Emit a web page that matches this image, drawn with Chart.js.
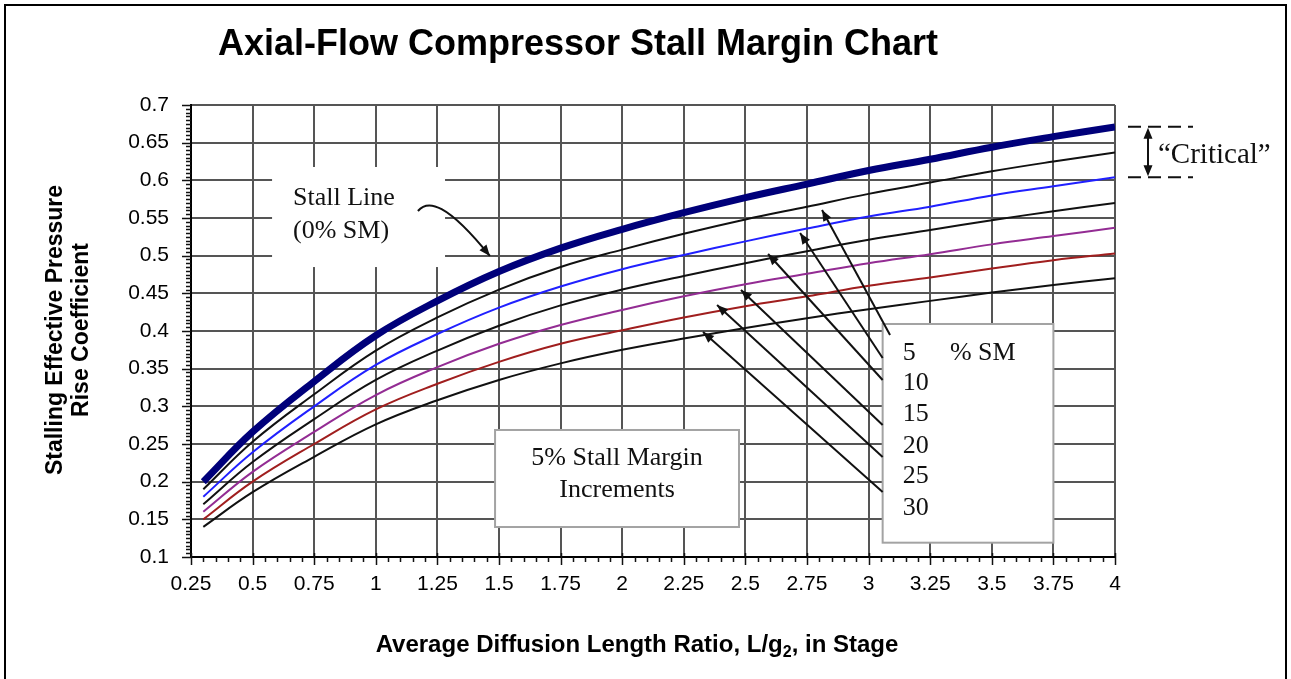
<!DOCTYPE html>
<html>
<head>
<meta charset="utf-8">
<title>Axial-Flow Compressor Stall Margin Chart</title>
<script src="https://cdn.jsdelivr.net/npm/chart.js@4.4.0/dist/chart.umd.min.js"></script>
<style>
  html, body { margin: 0; padding: 0; background: #fff; }
  #wrap { width: 1291px; height: 679px; }
</style>
</head>
<body>
<div id="wrap"><canvas id="stallChart" width="1291" height="679"></canvas></div>
<script>
const lengthRatio = [0.3, 0.5, 0.75, 1, 1.25, 1.5, 1.75, 2, 2.25, 2.5, 2.75, 3, 3.25, 3.5, 3.75, 4];

// stall line (0% SM) and the 5% stall margin increments
const stallLine = [0.200, 0.266, 0.333, 0.394, 0.440, 0.479, 0.510, 0.535, 0.557, 0.577, 0.595, 0.613, 0.628, 0.644, 0.658, 0.671];
const margin5   = [0.190, 0.253, 0.316, 0.374, 0.418, 0.455, 0.485, 0.508, 0.529, 0.548, 0.565, 0.582, 0.597, 0.612, 0.625, 0.637];
const margin10  = [0.180, 0.239, 0.300, 0.355, 0.396, 0.431, 0.459, 0.482, 0.501, 0.519, 0.536, 0.552, 0.565, 0.580, 0.592, 0.604];
const margin15  = [0.170, 0.226, 0.283, 0.335, 0.374, 0.407, 0.434, 0.455, 0.473, 0.490, 0.506, 0.521, 0.534, 0.547, 0.559, 0.570];
const margin20  = [0.160, 0.213, 0.266, 0.315, 0.352, 0.383, 0.408, 0.428, 0.446, 0.462, 0.476, 0.490, 0.502, 0.515, 0.526, 0.537];
const margin25  = [0.150, 0.200, 0.250, 0.296, 0.330, 0.359, 0.383, 0.401, 0.418, 0.433, 0.446, 0.460, 0.471, 0.483, 0.494, 0.503];
const margin30  = [0.140, 0.186, 0.233, 0.276, 0.308, 0.335, 0.357, 0.375, 0.390, 0.404, 0.417, 0.429, 0.440, 0.451, 0.461, 0.470];

// axis ticks
const xTickValues = [0.25, 0.5, 0.75, 1, 1.25, 1.5, 1.75, 2, 2.25, 2.5, 2.75, 3, 3.25, 3.5, 3.75, 4];
const xTickLabels = ['0.25', '0.5', '0.75', '1', '1.25', '1.5', '1.75', '2', '2.25', '2.5', '2.75', '3', '3.25', '3.5', '3.75', '4'];
const yTickValues = [0.1, 0.15, 0.2, 0.25, 0.3, 0.35, 0.4, 0.45, 0.5, 0.55, 0.6, 0.65, 0.7];
const yTickLabels = ['0.1', '0.15', '0.2', '0.25', '0.3', '0.35', '0.4', '0.45', '0.5', '0.55', '0.6', '0.65', '0.7'];

// legend box entries
const smLabels = ['5', '10', '15', '20', '25', '30'];

// annotation placement, in data units (x = L/g2, y = coefficient)
const stallNoteBox = { x0: 0.579, x1: 1.281, y0: 0.6177, y1: 0.4849 };
const incrementBox = { x0: 1.484, x1: 2.474, y0: 0.2686, y1: 0.1398 };
const smBox = { x0: 3.057, x1: 3.750, y0: 0.4093, y1: 0.1190 };
const smBaselines = [0.3615, 0.3217, 0.2805, 0.2380, 0.1982, 0.1557];
const smArrows = [
  { from: [3.087, 0.3947], to: [2.811, 0.5606] },
  { from: [3.057, 0.3641], to: [2.722, 0.5301] },
  { from: [3.057, 0.3349], to: [2.592, 0.5022] },
  { from: [3.057, 0.2752], to: [2.482, 0.4544] },
  { from: [3.057, 0.2327], to: [2.385, 0.4345] },
  { from: [3.057, 0.1863], to: [2.328, 0.3987] }
];
const stallArrow = [[1.171, 0.5593], [1.212, 0.5752], [1.289, 0.5699], [1.463, 0.4996]];

const serifFont = '"Liberation Serif", "Times New Roman", serif';
const sansFont = '"Liberation Sans", Arial, sans-serif';

function toPoints(values) {
    return lengthRatio.map(function(x, i) { return { x: x, y: values[i] }; });
}

function arrowHead(ctx, x, y, ang) {
    const len = 11, half = 4.5;
    ctx.beginPath();
    ctx.moveTo(x, y);
    ctx.lineTo(x - len * Math.cos(ang) + half * Math.sin(ang), y - len * Math.sin(ang) - half * Math.cos(ang));
    ctx.lineTo(x - len * Math.cos(ang) - half * Math.sin(ang), y - len * Math.sin(ang) + half * Math.cos(ang));
    ctx.closePath();
    ctx.fill();
}

function drawBox(ctx, xs, ys, box, border) {
    const l = xs.getPixelForValue(box.x0), r = xs.getPixelForValue(box.x1);
    const t = ys.getPixelForValue(box.y0), b = ys.getPixelForValue(box.y1);
    ctx.fillStyle = '#fff';
    ctx.fillRect(l, t, r - l, b - t);
    if (border) {
        ctx.strokeStyle = '#a3a3a3';
        ctx.lineWidth = 2;
        ctx.strokeRect(l, t, r - l, b - t);
    }
}

const annotations = {
    id: 'stallAnnotations',
    beforeDatasetsDraw(chart) {
        const ctx = chart.ctx, xs = chart.scales.x, ys = chart.scales.y;
        ctx.save();
        drawBox(ctx, xs, ys, stallNoteBox, false);
        drawBox(ctx, xs, ys, incrementBox, true);
        drawBox(ctx, xs, ys, smBox, true);

        ctx.fillStyle = '#111';
        ctx.font = '26px ' + serifFont;
        ctx.textBaseline = 'alphabetic';
        ctx.textAlign = 'left';
        ctx.fillText('Stall Line', xs.getPixelForValue(0.664), ys.getPixelForValue(0.5673));
        ctx.fillText('(0% SM)', xs.getPixelForValue(0.664), ys.getPixelForValue(0.5234));

        ctx.textAlign = 'center';
        ctx.fillText('5% Stall Margin', xs.getPixelForValue(1.979), ys.getPixelForValue(0.2221));
        ctx.fillText('Increments', xs.getPixelForValue(1.979), ys.getPixelForValue(0.180));

        ctx.textAlign = 'left';
        smLabels.forEach(function(lab, i) {
            ctx.fillText(lab, xs.getPixelForValue(3.139), ys.getPixelForValue(smBaselines[i]));
        });
        ctx.fillText('% SM', xs.getPixelForValue(3.330), ys.getPixelForValue(smBaselines[0]));
        ctx.restore();
    },
    afterDatasetsDraw(chart) {
        const ctx = chart.ctx, xs = chart.scales.x, ys = chart.scales.y;
        ctx.save();
        ctx.strokeStyle = '#111';
        ctx.fillStyle = '#111';
        ctx.lineWidth = 2;

        // arrows from the % SM box to each curve
        smArrows.forEach(function(a) {
            const x1 = xs.getPixelForValue(a.from[0]), y1 = ys.getPixelForValue(a.from[1]);
            const x2 = xs.getPixelForValue(a.to[0]), y2 = ys.getPixelForValue(a.to[1]);
            ctx.beginPath();
            ctx.moveTo(x1, y1);
            ctx.lineTo(x2, y2);
            ctx.stroke();
            arrowHead(ctx, x2, y2, Math.atan2(y2 - y1, x2 - x1));
        });

        // curved arrow to the stall line
        const p = stallArrow.map(function(q) { return [xs.getPixelForValue(q[0]), ys.getPixelForValue(q[1])]; });
        ctx.beginPath();
        ctx.moveTo(p[0][0], p[0][1]);
        ctx.bezierCurveTo(p[1][0], p[1][1], p[2][0], p[2][1], p[3][0], p[3][1]);
        ctx.stroke();
        arrowHead(ctx, p[3][0], p[3][1], Math.atan2(p[3][1] - p[2][1], p[3][0] - p[2][0]));

        // "Critical" band between the stall line and 10% SM at the right end
        const last = lengthRatio.length - 1;
        const yTop = ys.getPixelForValue(stallLine[last]);
        const yBot = ys.getPixelForValue(margin10[last]);
        const xr = xs.right;
        ctx.setLineDash([13, 7]);
        ctx.beginPath();
        ctx.moveTo(xr + 13, yTop); ctx.lineTo(xr + 78, yTop);
        ctx.moveTo(xr + 13, yBot); ctx.lineTo(xr + 78, yBot);
        ctx.stroke();
        ctx.setLineDash([]);
        ctx.beginPath();
        ctx.moveTo(xr + 33, yTop + 6); ctx.lineTo(xr + 33, yBot - 6);
        ctx.stroke();
        arrowHead(ctx, xr + 33, yTop + 1, -Math.PI / 2);
        arrowHead(ctx, xr + 33, yBot - 1, Math.PI / 2);
        ctx.font = '29px ' + serifFont;
        ctx.textAlign = 'left';
        ctx.textBaseline = 'middle';
        ctx.fillText('\u201CCritical\u201D', xr + 43, (yTop + yBot) / 2 + 3);
        ctx.restore();
    },
    afterDraw(chart) {
        const ctx = chart.ctx, xs = chart.scales.x, ys = chart.scales.y;
        const area = chart.chartArea;
        ctx.save();

        // page frame
        ctx.strokeStyle = '#000';
        ctx.lineWidth = 2;
        ctx.beginPath();
        ctx.moveTo(5, 679); ctx.lineTo(5, 5); ctx.lineTo(1286, 5); ctx.lineTo(1286, 679);
        ctx.stroke();

        // minor ticks
        ctx.strokeStyle = '#111';
        ctx.lineWidth = 1.5;
        ctx.beginPath();
        for (let i = 0; i <= 120; i++) {
            const py = Math.round(ys.getPixelForValue(0.1 + i * 0.005)) + 0.5;
            const len = i % 10 === 0 ? 9 : 5;
            ctx.moveTo(area.left, py); ctx.lineTo(area.left - len, py);
        }
        for (let i = 0; i <= 75; i++) {
            const px = Math.round(xs.getPixelForValue(0.25 + i * 0.05)) + 0.5;
            if (i % 5 === 0) { ctx.moveTo(px, area.bottom - 4); ctx.lineTo(px, area.bottom + 8); }
            else { ctx.moveTo(px, area.bottom); ctx.lineTo(px, area.bottom + 5); }
        }
        ctx.stroke();

        // title
        ctx.fillStyle = '#000';
        ctx.font = 'bold 36px ' + sansFont;
        ctx.textAlign = 'center';
        ctx.textBaseline = 'alphabetic';
        ctx.fillText('Axial-Flow Compressor Stall Margin Chart', 578, 55);

        // y axis title
        ctx.font = 'bold 23px ' + sansFont;
        ctx.save();
        ctx.translate(62, 330);
        ctx.rotate(-Math.PI / 2);
        ctx.fillText('Stalling Effective Pressure', 0, 0);
        ctx.restore();
        ctx.save();
        ctx.translate(88, 330);
        ctx.rotate(-Math.PI / 2);
        ctx.fillText('Rise Coefficient', 0, 0);
        ctx.restore();

        // x axis title with subscript
        const partA = 'Average Diffusion Length Ratio, L/g', partB = '2', partC = ', in Stage';
        ctx.font = 'bold 24px ' + sansFont;
        const wA = ctx.measureText(partA).width, wC = ctx.measureText(partC).width;
        ctx.font = 'bold 16px ' + sansFont;
        const wB = ctx.measureText(partB).width;
        let sx = 637 - (wA + wB + wC) / 2;
        ctx.textAlign = 'left';
        ctx.font = 'bold 24px ' + sansFont;
        ctx.fillText(partA, sx, 652);
        ctx.font = 'bold 16px ' + sansFont;
        ctx.fillText(partB, sx + wA, 657);
        ctx.font = 'bold 24px ' + sansFont;
        ctx.fillText(partC, sx + wA + wB, 652);
        ctx.restore();
    }
};

const ctx = document.getElementById('stallChart').getContext('2d');
const thin = 2;
const stallChart = new Chart(ctx, {
    type: 'scatter',
    data: {
        datasets: [
            { label: '0% SM', data: toPoints(stallLine), borderColor: '#00007a', borderWidth: 7 },
            { label: '5% SM', data: toPoints(margin5), borderColor: '#111', borderWidth: thin },
            { label: '10% SM', data: toPoints(margin10), borderColor: '#2020ff', borderWidth: thin },
            { label: '15% SM', data: toPoints(margin15), borderColor: '#111', borderWidth: thin },
            { label: '20% SM', data: toPoints(margin20), borderColor: '#932c93', borderWidth: thin },
            { label: '25% SM', data: toPoints(margin25), borderColor: '#a01e1e', borderWidth: thin },
            { label: '30% SM', data: toPoints(margin30), borderColor: '#111', borderWidth: thin }
        ].map(function(ds) {
            return Object.assign(ds, { showLine: true, pointRadius: 0, tension: 0.4, fill: false });
        })
    },
    options: {
        responsive: false,
        animation: false,
        layout: { padding: { left: 0, top: 105, right: 176, bottom: 0 } },
        plugins: {
            legend: { display: false },
            tooltip: { enabled: false },
            title: { display: false }
        },
        scales: {
            x: {
                type: 'linear',
                min: 0.25,
                max: 4,
                afterBuildTicks: function(scale) {
                    scale.ticks = xTickValues.map(function(v) { return { value: v }; });
                },
                afterFit: function(scale) { scale.height = 122; },
                grid: { color: '#555', lineWidth: 2, drawTicks: false },
                border: { color: '#000', width: 2 },
                ticks: {
                    padding: 15,
                    color: '#000',
                    font: { family: sansFont, size: 21 },
                    maxRotation: 0,
                    autoSkip: false,
                    callback: function(value, index) { return xTickLabels[index]; }
                }
            },
            y: {
                type: 'linear',
                min: 0.1,
                max: 0.7,
                afterBuildTicks: function(scale) {
                    scale.ticks = yTickValues.map(function(v) { return { value: v }; });
                },
                afterFit: function(scale) { scale.width = 191; },
                grid: { color: '#555', lineWidth: 2, drawTicks: false },
                border: { color: '#000', width: 2 },
                ticks: {
                    padding: 22,
                    color: '#000',
                    font: { family: sansFont, size: 21 },
                    autoSkip: false,
                    callback: function(value, index) { return yTickLabels[index]; }
                }
            }
        }
    },
    plugins: [annotations]
});
</script>
</body>
</html>
